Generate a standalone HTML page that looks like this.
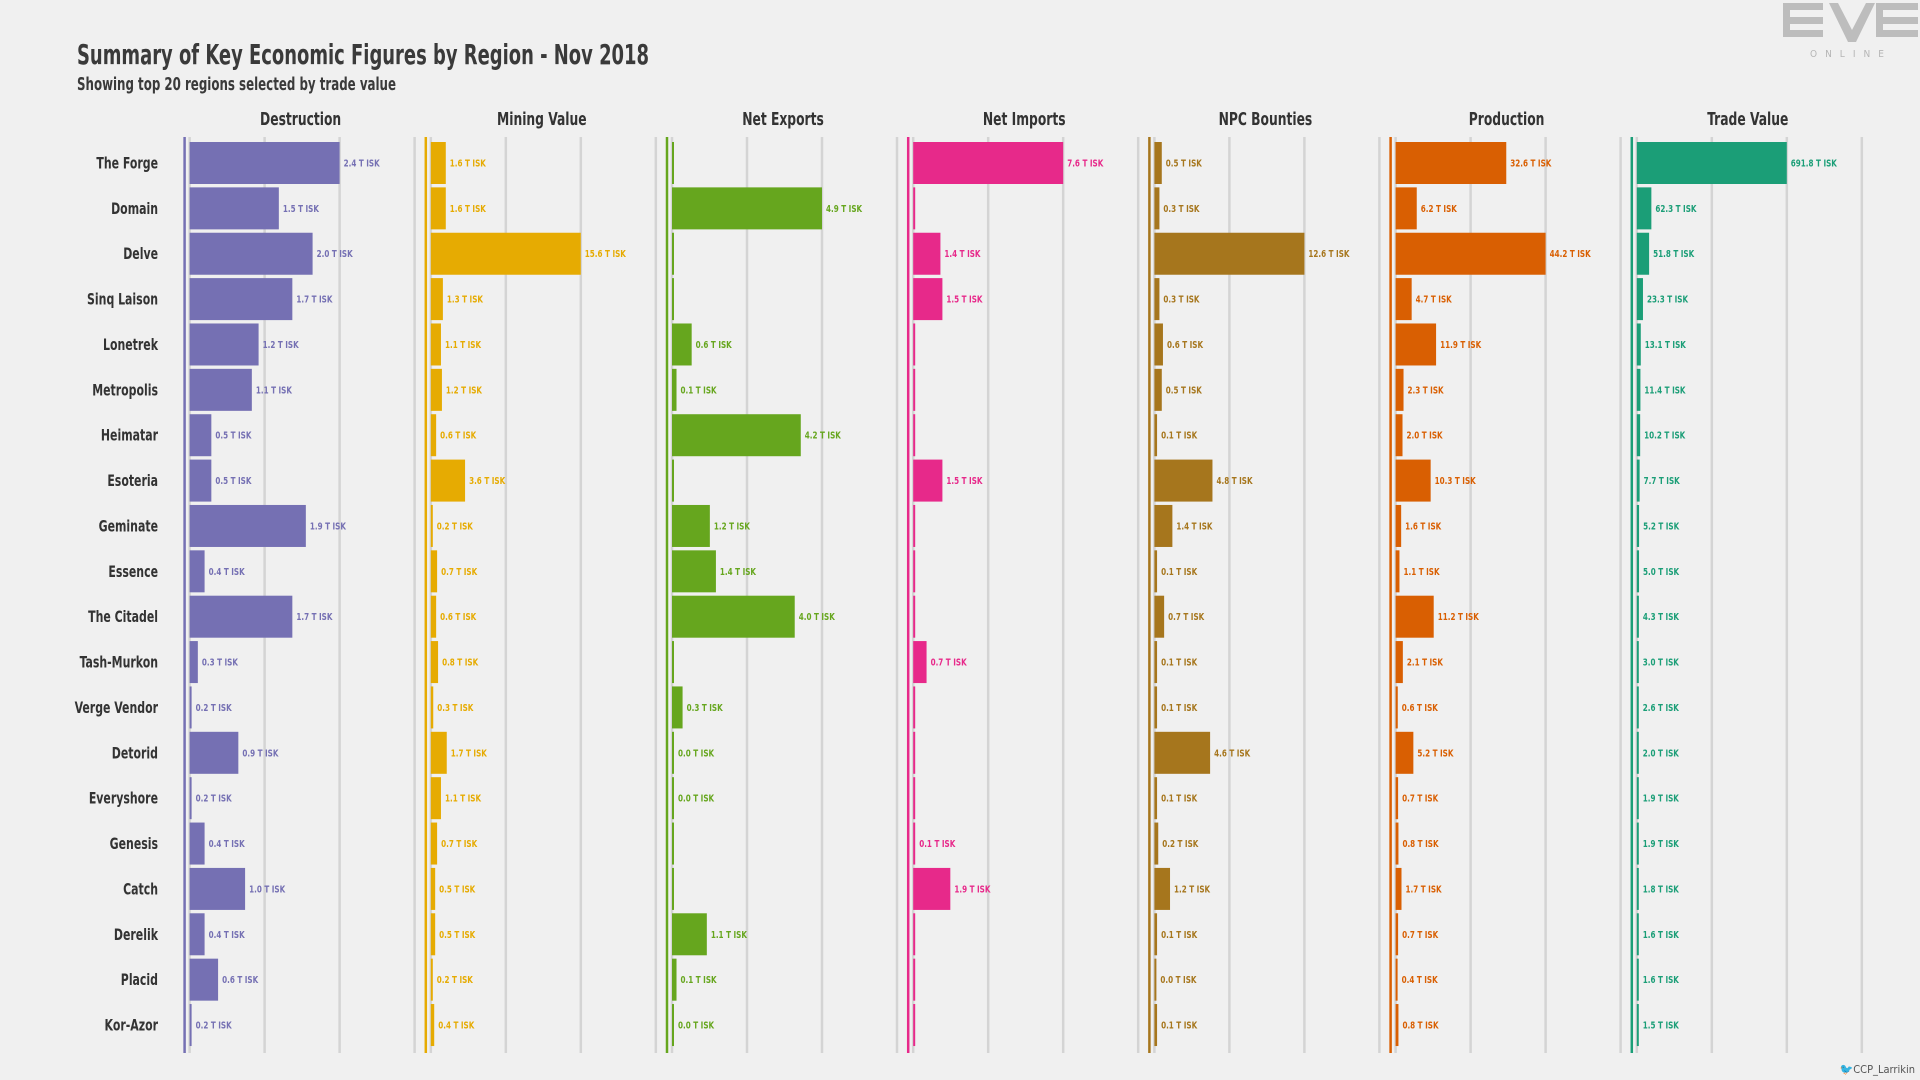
<!DOCTYPE html>
<html><head><meta charset="utf-8">
<style>
html,body{margin:0;padding:0;background:#f0f0f0;}
svg{display:block;font-family:"DejaVu Sans Condensed","Liberation Sans Narrow","Liberation Sans",sans-serif;}
</style></head>
<body>
<svg id="chart" width="1920" height="1080" viewBox="0 0 1920 1080" xmlns="http://www.w3.org/2000/svg">
<rect width="1920" height="1080" fill="#f0f0f0"/>
<text x="77" y="64" font-size="28" font-weight="bold" fill="#3a3a3a" textLength="572" lengthAdjust="spacingAndGlyphs">Summary of Key Economic Figures by Region - Nov 2018</text>
<text x="77" y="90" font-size="18" font-weight="bold" fill="#3a3a3a" textLength="319" lengthAdjust="spacingAndGlyphs">Showing top 20 regions selected by trade value</text>
<g fill="#bdbdbd">
<rect x="1783" y="3" width="40" height="7"/><rect x="1783" y="17" width="40" height="7"/><rect x="1783" y="30" width="40" height="7"/><rect x="1783" y="3" width="7" height="34"/>
<polygon points="1829,3 1838,3 1852,30 1866,3 1875,3 1856,42 1848,42"/>
<rect x="1876" y="3" width="42" height="7"/><rect x="1876" y="17" width="42" height="7"/><rect x="1876" y="30" width="42" height="7"/><rect x="1876" y="3" width="7" height="34"/>
<text x="1810" y="57" font-size="10" letter-spacing="8" fill="#b5b5b5">ONLINE</text>
</g>
<text x="1915" y="1073" font-size="11" text-anchor="end" fill="#555">🐦CCP_Larrikin</text>
<g id="plot"></g>
</svg>
<script>
const regions = ["The Forge","Domain","Delve","Sinq Laison","Lonetrek","Metropolis","Heimatar","Esoteria","Geminate","Essence","The Citadel","Tash-Murkon","Verge Vendor","Detorid","Everyshore","Genesis","Catch","Derelik","Placid","Kor-Azor"];
const metrics = ["Destruction","Mining Value","Net Exports","Net Imports","NPC Bounties","Production","Trade Value"];
const colors = ["#7570b3","#e6ab02","#66a61e","#e7298a","#a6761d","#d95f02","#1b9e77"];
const destruction = [2.4,1.5,2.0,1.7,1.2,1.1,0.5,0.5,1.9,0.4,1.7,0.3,0.2,0.9,0.2,0.4,1.0,0.4,0.6,0.2];
const miningValue = [1.6,1.6,15.6,1.3,1.1,1.2,0.6,3.6,0.2,0.7,0.6,0.8,0.3,1.7,1.1,0.7,0.5,0.5,0.2,0.4];
const netExports = [null,4.9,null,null,0.6,0.1,4.2,null,1.2,1.4,4.0,null,0.3,0.0,0.0,null,null,1.1,0.1,0.0];
const netImports = [7.6,null,1.4,1.5,null,null,null,1.5,null,null,null,0.7,null,null,null,0.1,1.9,null,null,null];
const npcBounties = [0.5,0.3,12.6,0.3,0.6,0.5,0.1,4.8,1.4,0.1,0.7,0.1,0.1,4.6,0.1,0.2,1.2,0.1,0.0,0.1];
const production = [32.6,6.2,44.2,4.7,11.9,2.3,2.0,10.3,1.6,1.1,11.2,2.1,0.6,5.2,0.7,0.8,1.7,0.7,0.4,0.8];
const tradeValue = [691.8,62.3,51.8,23.3,13.1,11.4,10.2,7.7,5.2,5.0,4.3,3.0,2.6,2.0,1.9,1.9,1.8,1.6,1.6,1.5];
const series = [destruction,miningValue,netExports,netImports,npcBounties,production,tradeValue];

const NS="http://www.w3.org/2000/svg";
const plotG=document.getElementById('plot');
function mk(tag,attrs,parent){const e=document.createElementNS(NS,tag);for(const k in attrs)e.setAttribute(k,attrs[k]);(parent||plotG).appendChild(e);return e;}
const panelX0=188.6, panelStep=241.2, gridStep=75, maxLen=150;
const plotTop=137, plotBottom=1053, row0=163, rowStep=45.37, barH=42;
const sx=0.76;
function yOf(i){return row0+i*rowStep;}

regions.forEach((r,i)=>{
  const t=mk('text',{x:0,y:0,transform:'translate(158,'+(yOf(i)+5.5)+') scale('+sx+',1)','font-size':16,'font-weight':'bold','text-anchor':'end',fill:'#333'});
  
  
  t.textContent=r;
});

series.forEach((vals,p)=>{
  const s=panelX0+p*panelStep;
  const g=mk('g',{});
  
  
  for(let k=0;k<4;k++){
    const gl=mk('line',{x1:s+k*gridStep+1,x2:s+k*gridStep+1,y1:plotTop,y2:plotBottom,stroke:'#d4d4d4','stroke-width':2.5},g);
    
    
  }
  const h=mk('text',{x:0,y:0,transform:'translate('+(s+112)+',125) scale('+sx+',1)','font-size':18,'font-weight':'bold','text-anchor':'middle',fill:'#333'},g);
  
  
  h.textContent=metrics[p];
  const bl=mk('line',{x1:s-4,x2:s-4,y1:plotTop,y2:plotBottom,stroke:colors[p],'stroke-width':2.5},g);
  
  
  const nums=vals.filter(v=>v!==null);
  const mx=Math.max(...nums), mn=Math.min(...nums);
  const dMin=mn-0.01*(mx-mn);
  const xScale=v=>maxLen*(v-dMin)/(mx-dMin);
  vals.forEach((v,i)=>{
    const y=yOf(i);
    if(v===null){
      const b=mk('rect',{x:s+1,y:y-barH/2,width:2,height:barH,fill:colors[p]},g);
      
      
      return;
    }
    const L=Math.max(2,xScale(v));
    const b=mk('rect',{x:s+1,y:y-barH/2,width:L,height:barH,fill:colors[p]},g);
    
    
    const lt=mk('text',{x:0,y:0,transform:'translate('+(s+1+L+4)+','+(y+3.5)+') scale(0.8,1)','font-size':10,'font-weight':'bold',fill:colors[p]},g);
    
    
    lt.textContent=v.toFixed(1)+' T ISK';
  });
});
</script>
</body></html>
